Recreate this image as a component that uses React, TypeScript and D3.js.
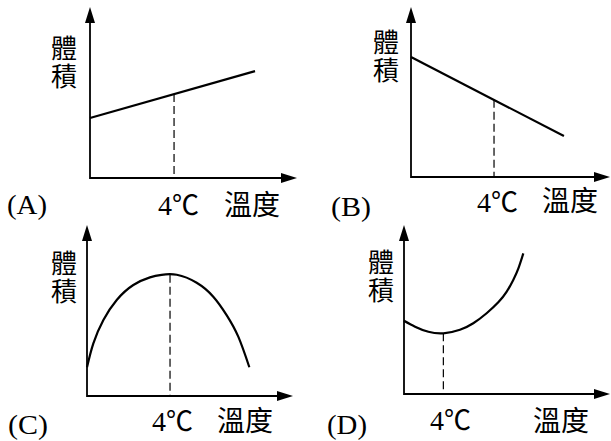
import React from "react";
import * as d3 from "d3";

// ---- data (chart units: x = temperature, y = volume) ----
const panelLabels = ["(A)", "(B)", "(C)", "(D)"];
const yLabelChars = ["體", "積"];
const xLabel = "溫度";
const markLabel = "4";
const markUnit = "℃";

const curveA: [number, number][] = [
  [0, 3.53],
  [8.05, 6.29],
];
const curveB: [number, number][] = [
  [0, 7.06],
  [7.46, 2.41],
];
const curveC: [number, number][] = [
  [0.0, 1.69],
  [0.31, 3.1],
  [0.8, 4.47],
  [1.45, 5.65],
  [2.26, 6.53],
  [3.07, 6.98],
  [3.64, 7.13],
  [4.38, 7.13],
  [5.35, 6.66],
  [6.16, 5.84],
  [6.81, 4.76],
  [7.38, 3.49],
  [7.92, 1.69],
];
const curveD: [number, number][] = [
  [0, 4.31],
  [0.54, 3.96],
  [1.19, 3.66],
  [1.92, 3.57],
  [2.73, 3.78],
  [3.38, 4.16],
  [4.03, 4.75],
  [4.6, 5.39],
  [5.01, 6.02],
  [5.33, 6.71],
  [5.58, 7.39],
  [5.82, 8.27],
];
const curves = [curveA, curveB, curveC, curveD];
const markTemps = [4.1, 4.05, 4.05, 1.92];
const markVolumes = [4.94, 4.54, 7.13, 3.57];
const smooth = [false, false, true, true];

// ---- layout ----
const W = 611;
const H = 441;
const layout = [
  { ox: 90, oy: 178, xLen: 207, yLen: 171, ylx: 64, yl1: 58, px: 7, pb: 214, mx: 158, mb: 215, tx: 224, tb: 215 },
  { ox: 411, oy: 177, xLen: 199, yLen: 170, ylx: 386, yl1: 52, px: 331, pb: 216, mx: 477, mb: 212, tx: 542, tb: 211 },
  { ox: 87, oy: 396, xLen: 206, yLen: 171, ylx: 64, yl1: 273, px: 8, pb: 434, mx: 152, mb: 431, tx: 217, tb: 431 },
  { ox: 404, oy: 394, xLen: 206, yLen: 169, ylx: 381, yl1: 272, px: 327, pb: 434, mx: 430, mb: 430, tx: 533, tb: 431 },
];
const PX_X = 20.5;
const PX_Y = 17;
const CJK = "'Noto Sans CJK TC', 'Noto Sans CJK SC', sans-serif";
const LAT = "'Liberation Serif', 'DejaVu Serif', serif";

function Panel({ i }: { i: number }) {
  const L = layout[i];
  const x = d3.scaleLinear().domain([0, 10]).range([L.ox, L.ox + 10 * PX_X]);
  const y = d3.scaleLinear().domain([0, 10]).range([L.oy, L.oy - 10 * PX_Y]);
  const line = d3
    .line<[number, number]>()
    .x((d) => x(d[0]))
    .y((d) => y(d[1]))
    .curve(smooth[i] ? d3.curveNatural : d3.curveLinear);
  const xTip = L.ox + L.xLen;
  const yTip = L.oy - L.yLen;
  const aL = 16;
  const aW = 5;
  const mX = x(markTemps[i]);
  return (
    <g>
      {/* axes */}
      <line x1={L.ox} y1={L.oy} x2={xTip - aL + 2} y2={L.oy} stroke="#000" strokeWidth={1.8} />
      <line x1={L.ox} y1={L.oy + 0.9} x2={L.ox} y2={yTip + aL - 2} stroke="#000" strokeWidth={1.8} />
      <path d={`M${xTip},${L.oy} L${xTip - aL},${L.oy - aW} L${xTip - aL},${L.oy + aW} Z`} fill="#000" />
      <path d={`M${L.ox},${yTip} L${L.ox - aW},${yTip + aL} L${L.ox + aW},${yTip + aL} Z`} fill="#000" />
      {/* dashed marker */}
      <line
        x1={mX}
        x2={mX}
        y1={y(markVolumes[i])}
        y2={L.oy}
        stroke="#000"
        strokeWidth={1.2}
        strokeDasharray="8,4"
      />
      {/* curve */}
      <path d={line(curves[i]) || ""} fill="none" stroke="#000" strokeWidth={2.2} strokeLinecap="butt" />
      {/* y label (stacked vertically) */}
      <text textAnchor="middle" fontFamily={CJK} fontSize={26} fill="#000">
        <tspan x={L.ylx} y={L.yl1}>{yLabelChars[0]}</tspan>
        <tspan x={L.ylx} dy={28}>{yLabelChars[1]}</tspan>
      </text>
      {/* panel label */}
      <text x={L.px} y={L.pb} fontFamily={LAT} fontSize={28} fill="#000" textLength={40} lengthAdjust="spacingAndGlyphs">
        {panelLabels[i]}
      </text>
      {/* 4℃ */}
      <text x={L.mx} y={L.mb} fill="#000">
        <tspan fontFamily={LAT} fontSize={28}>{markLabel}</tspan>
        <tspan fontFamily={CJK} fontSize={27}>{markUnit}</tspan>
      </text>
      {/* 溫度 */}
      <text x={L.tx} y={L.tb} fontFamily={CJK} fontSize={28} fill="#000">
        {xLabel}
      </text>
    </g>
  );
}

export default function App() {
  return (
    <svg
      width={W}
      height={H}
      viewBox={`0 0 ${W} ${H}`}
      style={{ position: "absolute", left: 0, top: 0, display: "block", background: "#fff" }}
    >
      <rect x={0} y={0} width={W} height={H} fill="#fff" />
      {panelLabels.map((_, i) => (
        <Panel key={i} i={i} />
      ))}
    </svg>
  );
}
